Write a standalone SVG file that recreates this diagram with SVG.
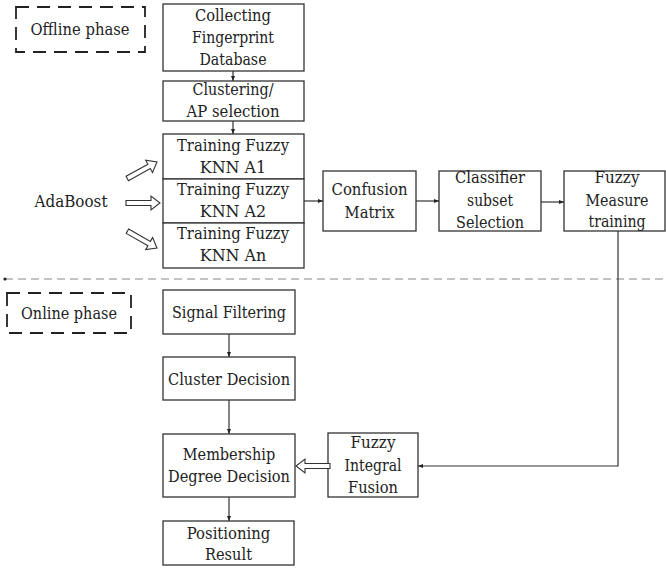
<svg xmlns="http://www.w3.org/2000/svg" width="666" height="568" viewBox="0 0 666 568">
<style>
.box{fill:#fff;stroke:#333;stroke-width:1.3}
.dbox{fill:none;stroke:#222;stroke-width:1.8;stroke-dasharray:13 8}
text{font-family:"DejaVu Serif","Liberation Serif",serif;font-size:16.5px;fill:#222;text-anchor:middle}
.ln{fill:none;stroke:#333;stroke-width:1.2}
.hol{fill:#fff;stroke:#333;stroke-width:1.1;stroke-linejoin:miter}
</style>
<defs>
<marker id="ah" viewBox="0 0 10 10" refX="10" refY="5" markerWidth="5" markerHeight="5" orient="auto" markerUnits="userSpaceOnUse">
<path d="M0,1 L10,5 L0,9 Z" fill="#222"/>
</marker>
<path id="harrow" d="M-34,-2.5 L-9,-2.5 L-9,-7 L0,0 L-9,7 L-9,2.5 L-34,2.5 Z"/>
</defs>
<rect width="666" height="568" fill="#fff"/>

<g id="offline-phase">
<rect class="dbox" x="16" y="7" width="129" height="45"/>
<text x="80" y="35" textLength="99" lengthAdjust="spacingAndGlyphs">Offline phase</text>
</g>
<g id="collecting">
<rect class="box" x="163" y="4" width="141" height="67"/>
<text x="233" y="21" textLength="76" lengthAdjust="spacingAndGlyphs">Collecting</text>
<text x="233" y="43" textLength="82" lengthAdjust="spacingAndGlyphs">Fingerprint</text>
<text x="233" y="65" textLength="67" lengthAdjust="spacingAndGlyphs">Database</text>
</g>
<g id="clustering">
<rect class="box" x="163" y="81" width="141" height="40"/>
<text x="233" y="95" textLength="81" lengthAdjust="spacingAndGlyphs">Clustering/</text>
<text x="233" y="117" textLength="93" lengthAdjust="spacingAndGlyphs">AP selection</text>
</g>
<g id="training-a1">
<rect class="box" x="163" y="134" width="141" height="45"/>
<text x="233" y="151" textLength="112" lengthAdjust="spacingAndGlyphs">Training Fuzzy</text>
<text x="233" y="173" textLength="66.5" lengthAdjust="spacingAndGlyphs">KNN A1</text>
</g>
<g id="training-a2">
<rect class="box" x="163" y="179" width="141" height="44"/>
<text x="233" y="195" textLength="112" lengthAdjust="spacingAndGlyphs">Training Fuzzy</text>
<text x="233" y="217" textLength="66.5" lengthAdjust="spacingAndGlyphs">KNN A2</text>
</g>
<g id="training-an">
<rect class="box" x="163" y="223" width="141" height="45"/>
<text x="233" y="239" textLength="112" lengthAdjust="spacingAndGlyphs">Training Fuzzy</text>
<text x="233" y="261" textLength="66.5" lengthAdjust="spacingAndGlyphs">KNN An</text>
</g>
<g id="adaboost">
<text x="71" y="207" textLength="73" lengthAdjust="spacingAndGlyphs">AdaBoost</text>
</g>
<g id="confusion">
<rect class="box" x="323" y="171" width="93" height="60"/>
<text x="369.5" y="195" textLength="76" lengthAdjust="spacingAndGlyphs">Confusion</text>
<text x="369.5" y="218" textLength="50" lengthAdjust="spacingAndGlyphs">Matrix</text>
</g>
<g id="classifier">
<rect class="box" x="439" y="171" width="102" height="60"/>
<text x="490" y="183" textLength="70" lengthAdjust="spacingAndGlyphs">Classifier</text>
<text x="490" y="206" textLength="46" lengthAdjust="spacingAndGlyphs">subset</text>
<text x="490" y="228" textLength="68" lengthAdjust="spacingAndGlyphs">Selection</text>
</g>
<g id="fuzzy-measure">
<rect class="box" x="564" y="171" width="101" height="60"/>
<text x="617" y="183" textLength="45" lengthAdjust="spacingAndGlyphs">Fuzzy</text>
<text x="617" y="206" textLength="63" lengthAdjust="spacingAndGlyphs">Measure</text>
<text x="617" y="227" textLength="57" lengthAdjust="spacingAndGlyphs">training</text>
</g>
<g id="online-phase">
<rect class="dbox" x="7" y="293" width="124" height="40"/>
<text x="69" y="319" textLength="96" lengthAdjust="spacingAndGlyphs">Online phase</text>
</g>
<g id="signal-filtering">
<rect class="box" x="163" y="290" width="132" height="44"/>
<text x="229" y="318" textLength="114" lengthAdjust="spacingAndGlyphs">Signal Filtering</text>
</g>
<g id="cluster-decision">
<rect class="box" x="163" y="357" width="132" height="43"/>
<text x="229" y="385" textLength="122" lengthAdjust="spacingAndGlyphs">Cluster Decision</text>
</g>
<g id="membership">
<rect class="box" x="163" y="434" width="132" height="63"/>
<text x="229" y="460" textLength="92.5" lengthAdjust="spacingAndGlyphs">Membership</text>
<text x="229" y="482" textLength="122" lengthAdjust="spacingAndGlyphs">Degree Decision</text>
</g>
<g id="positioning">
<rect class="box" x="163" y="521" width="131" height="44"/>
<text x="228.5" y="539" textLength="83.5" lengthAdjust="spacingAndGlyphs">Positioning</text>
<text x="228.5" y="560" textLength="47" lengthAdjust="spacingAndGlyphs">Result</text>
</g>
<g id="fuzzy-integral">
<rect class="box" x="328" y="433" width="90" height="64"/>
<text x="373" y="448" textLength="45" lengthAdjust="spacingAndGlyphs">Fuzzy</text>
<text x="373" y="471" textLength="57" lengthAdjust="spacingAndGlyphs">Integral</text>
<text x="373" y="493" textLength="50" lengthAdjust="spacingAndGlyphs">Fusion</text>
</g>

<g id="connectors">
<line x1="5" y1="279" x2="666" y2="279" stroke="#888" stroke-width="1.2" stroke-dasharray="8 5"/>
<circle cx="5" cy="279" r="1.6" fill="#222"/>
<line class="ln" x1="233" y1="71" x2="233" y2="81" marker-end="url(#ah)"/>
<line class="ln" x1="233" y1="121" x2="233" y2="134" marker-end="url(#ah)"/>
<line class="ln" x1="304" y1="201" x2="323" y2="201" marker-end="url(#ah)"/>
<line class="ln" x1="416" y1="201" x2="439" y2="201" marker-end="url(#ah)"/>
<line class="ln" x1="541" y1="202" x2="564" y2="202" marker-end="url(#ah)"/>
<polyline class="ln" points="618,231 618,466 418,466" marker-end="url(#ah)"/>
<line class="ln" x1="229" y1="334" x2="229" y2="357" marker-end="url(#ah)"/>
<line class="ln" x1="229" y1="400" x2="229" y2="434" marker-end="url(#ah)"/>
<line class="ln" x1="229" y1="497" x2="229" y2="521" marker-end="url(#ah)"/>
<use href="#harrow" class="hol" transform="translate(157,162) rotate(-29)"/>
<use href="#harrow" class="hol" transform="translate(160,203)"/>
<use href="#harrow" class="hol" transform="translate(157,248) rotate(29.6)"/>
<use href="#harrow" class="hol" transform="translate(296,466) rotate(180)"/>
</g>
</svg>
